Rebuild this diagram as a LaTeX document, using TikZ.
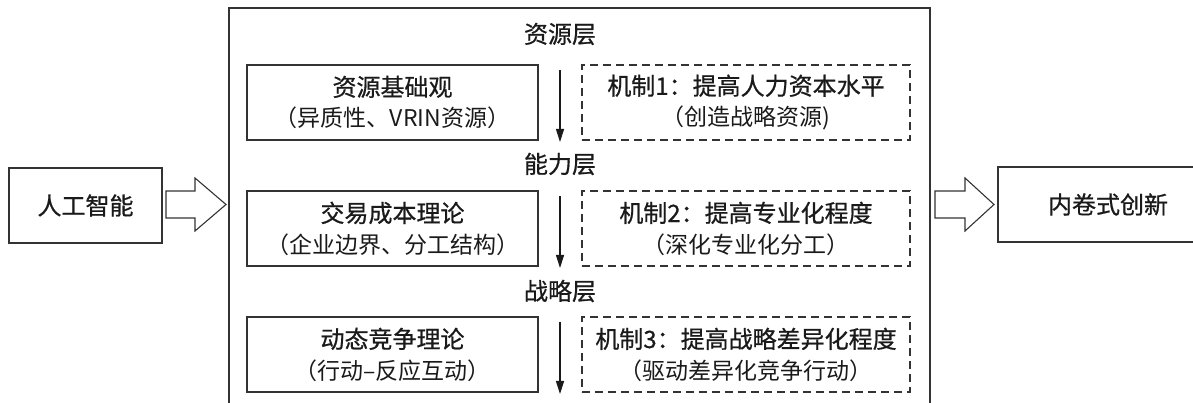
\documentclass[tikz,border=0pt]{standalone}
\usepackage{fontspec}
\setmainfont{Noto Sans CJK SC}
\newfontfamily\heavyfont{Noto Sans CJK SC}[FakeBold=0.7]
\usetikzlibrary{arrows.meta}
\definecolor{lc}{HTML}{333333}
\definecolor{tc}{HTML}{1A1A1A}
\newcommand\mainsz{\heavyfont\fontsize{24}{31}\selectfont}
\newcommand\subsz{\normalfont\fontsize{23}{31}\selectfont}
\begin{document}
\begin{tikzpicture}[x=1pt,y=1pt,
  lin/.style={draw=lc, line width=1.1pt},
  txt/.style={text=tc, font=\mainsz, inner sep=0pt},
  solidbox/.style={lin, txt, minimum width=291pt, minimum height=75pt, align=center},
  dashbox/.style={lin, txt, dash pattern=on 8pt off 5pt, minimum width=328pt, minimum height=75pt, align=center},
  endbox/.style={lin, txt, minimum height=75pt},
  blockarrow/.style={lin, fill=white, line join=miter},
  downarrow/.style={draw=tc, line width=1.1pt, -{Triangle[length=13pt,width=8pt]}},
  layer/.style={txt}
]
\useasboundingbox (0,0) rectangle (1193,403);
% outer frame (open at the bottom)
\draw[lin] (229,0) -- (229,395) -- (930,395) -- (930,0);

% end boxes
\node[endbox, minimum width=153pt] (ai) at (85.5,197.5) {人工智能};
\node[endbox, minimum width=220pt] (inv) at (1108,198.5) {内卷式创新};

% block arrows
\draw[blockarrow] (166,212) -- (195,212) -- (195,225) -- (226,198.5) -- (195,172) -- (195,185) -- (166,185) -- cycle;
\draw[blockarrow] (935,212) -- (965,212) -- (965,225) -- (994,198.5) -- (965,172) -- (965,185) -- (935,185) -- cycle;

% layer labels
\node[layer] (l1) at (560,369) {资源层};
\node[layer] (l2) at (560,239) {能力层};
\node[layer] (l3) at (560,112) {战略层};

% theory boxes
\node[solidbox] (t1) at (392.5,300.5) {资源基础观\\\subsz （异质性、VRIN资源）};
\node[solidbox] (t2) at (392.5,174.5) {交易成本理论\\\subsz （企业边界、分工结构）};
\node[solidbox] (t3) at (392.5,48.5) {动态竞争理论\\\subsz （行动–反应互动）};

% mechanism boxes
\node[dashbox] (m1) at (746,300.5) {机制1：提高人力资本水平\\\subsz （创造战略资源)};
\node[dashbox] (m2) at (746,174.5) {机制2：提高专业化程度\\\subsz （深化专业化分工）};
\node[dashbox] (m3) at (746,48.5) {机制3：提高战略差异化程度\\\subsz （驱动差异化竞争行动）};

% down arrows
\coordinate (d1s) at (560,333); \coordinate (d1e) at (560,261);
\coordinate (d2s) at (560,207); \coordinate (d2e) at (560,135);
\coordinate (d3s) at (560,81);  \coordinate (d3e) at (560,9);
\draw[downarrow] (d1s) -- (d1e);
\draw[downarrow] (d2s) -- (d2e);
\draw[downarrow] (d3s) -- (d3e);
\end{tikzpicture}
\end{document}
